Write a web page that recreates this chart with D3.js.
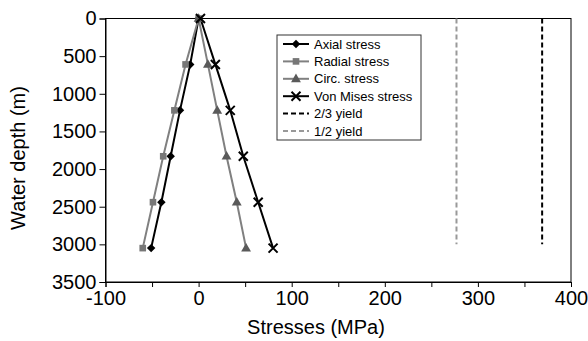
<!DOCTYPE html>
<html><head><meta charset="utf-8">
<script src="https://cdn.jsdelivr.net/npm/d3@7"></script>
<style>
body{margin:0;background:#fff;}
svg{display:block;font-family:"Liberation Sans",Arial,sans-serif;}
</style></head>
<body><svg id="c" width="588" height="341"></svg>
<script>
const depths = [0, 610, 1220, 1830, 2440, 3050];
const axialStress = [0, -9, -20, -30, -40, -51];
const radialStress = [0, -14, -26, -38, -49, -60];
const circStress = [0, 10, 20, 30, 41, 51];
const vonMisesStress = [2, 18, 34, 48, 64, 80];
const yieldDepths = [0, 3000];
const twoThirdsYield = [369, 369];
const halfYield = [277, 277];
const xTicks = [-100, 0, 100, 200, 300, 400];
const xMinorTicks = [-100, -50, 0, 50, 100, 150, 200, 250, 300, 350, 400];
const yTicks = [0, 500, 1000, 1500, 2000, 2500, 3000, 3500];
const seriesNames = ["Axial stress", "Radial stress", "Circ. stress", "Von Mises stress", "2/3 yield", "1/2 yield"];

const svg = d3.select("#c");
const L = 105.5, R = 571, T = 18.5, B = 282;
const x = d3.scaleLinear().domain([-100, 400]).range([L, R]);
const y = d3.scaleLinear().domain([0, 3500]).range([T, B]);

// plot box
svg.append("rect").attr("x", L).attr("y", T).attr("width", R - L).attr("height", B - T)
  .attr("fill", "none").attr("stroke", "#000").attr("stroke-width", 1);

// axes
const yAxis = svg.append("g").attr("transform", `translate(${L},0)`)
  .call(d3.axisLeft(y).tickValues(yTicks).tickSize(6).tickPadding(3).tickFormat(d => String(d)));
const xAxis = svg.append("g").attr("transform", `translate(0,${B})`)
  .call(d3.axisBottom(x).tickValues(xMinorTicks).tickSize(5).tickPadding(4)
    .tickFormat(d => xTicks.includes(d) ? String(d) : ""));
[yAxis, xAxis].forEach(g => {
  g.selectAll("path.domain").attr("stroke", "#000");
  g.selectAll("line").attr("stroke", "#000");
  g.selectAll("text").attr("font-size", 20).attr("fill", "#000")
    .attr("font-family", "Liberation Sans, Arial, sans-serif");
});

// titles
svg.append("text").attr("x", 316).attr("y", 334).attr("text-anchor", "middle")
  .attr("font-size", 20).text("Stresses (MPa)");
svg.append("text").attr("transform", `translate(25,158) rotate(-90)`)
  .attr("text-anchor", "middle").attr("font-size", 20).text("Water depth (m)");

const line = d3.line().x(d => x(d[0])).y(d => y(d[1]));
const series = [
  {vals: axialStress, depth: depths, color: "#000", mcolor: "#000", marker: "diamond"},
  {vals: radialStress, depth: depths, color: "#808080", mcolor: "#777", marker: "square"},
  {vals: circStress, depth: depths, color: "#808080", mcolor: "#5a5a5a", marker: "triangle"},
  {vals: vonMisesStress, depth: depths, color: "#000", mcolor: "#000", marker: "cross"},
  {vals: twoThirdsYield, depth: yieldDepths, color: "#000", dash: "5,3"},
  {vals: halfYield, depth: yieldDepths, color: "#999", dash: "5,3"}
];

function drawMarker(g, type, cx, cy, col) {
  if (type === "diamond") {
    g.append("path").attr("d", d3.symbol(d3.symbolSquare, 36)()).attr("transform", `translate(${cx},${cy}) rotate(45)`).attr("fill", col);
  } else if (type === "square") {
    g.append("path").attr("d", d3.symbol(d3.symbolSquare, 44)()).attr("transform", `translate(${cx},${cy})`).attr("fill", col);
  } else if (type === "triangle") {
    g.append("path").attr("d", d3.symbol(d3.symbolTriangle, 42)()).attr("transform", `translate(${cx},${cy + 0.5})`).attr("fill", col);
  } else if (type === "cross") {
    const s = 4.5;
    g.append("path").attr("d", `M${cx - s},${cy - s}L${cx + s},${cy + s}M${cx - s},${cy + s}L${cx + s},${cy - s}`)
      .attr("stroke", col).attr("stroke-width", 2).attr("fill", "none");
  }
}

const plot = svg.append("g");
series.forEach(s => {
  const pts = s.vals.map((v, i) => [v, s.depth[i]]);
  plot.append("path").attr("d", line(pts)).attr("fill", "none").attr("stroke", s.color)
    .attr("stroke-width", 2).attr("stroke-dasharray", s.dash || null);
});
series.forEach(s => {
  if (!s.marker) return;
  s.vals.forEach((v, i) => drawMarker(plot, s.marker, x(v), y(s.depth[i]), s.mcolor));
});

// legend
const lg = svg.append("g");
lg.append("rect").attr("x", 277).attr("y", 35).attr("width", 144).attr("height", 105)
  .attr("fill", "#fff").attr("stroke", "#333").attr("stroke-width", 1);
seriesNames.forEach((name, i) => {
  const s = series[i];
  const cy = 44 + i * 17.4;
  lg.append("line").attr("x1", 283).attr("x2", 309).attr("y1", cy).attr("y2", cy)
    .attr("stroke", s.color).attr("stroke-width", 2).attr("stroke-dasharray", s.dash || null);
  if (s.marker) drawMarker(lg, s.marker, 296, cy, s.mcolor);
  lg.append("text").attr("x", 314).attr("y", cy + 4.5).attr("font-size", 13).text(name);
});
</script></body></html>
